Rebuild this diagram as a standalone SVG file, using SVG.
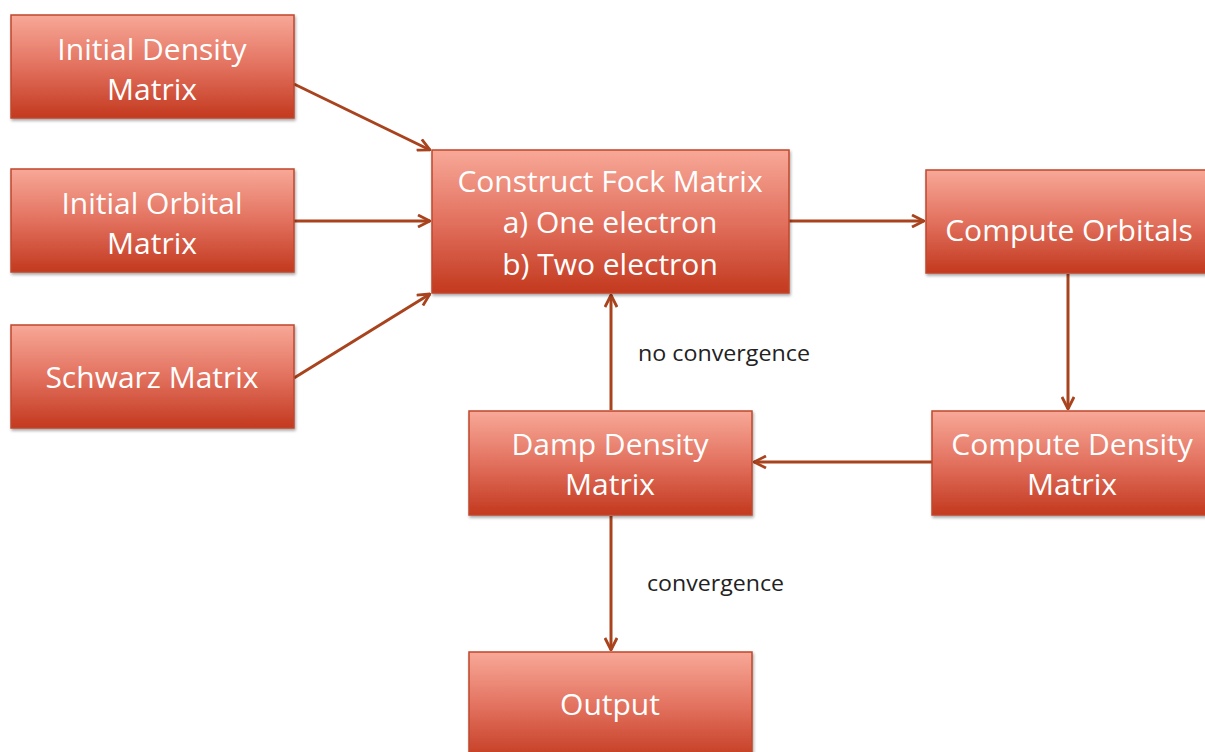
<svg xmlns="http://www.w3.org/2000/svg" width="1205" height="752" viewBox="0 0 1205 752">
<style>
.box{fill:url(#g);stroke:#c0472c;stroke-width:1.5;filter:url(#sh)}
.t{font-family:"Open Sans","Liberation Sans",sans-serif;font-size:30px;fill:#ffffff;text-anchor:middle}
.lbl{font-family:"Open Sans","Liberation Sans",sans-serif;font-size:21px;fill:#222222}
.c{stroke:#a9431e;stroke-width:3;fill:none;marker-end:url(#a)}
</style>
<defs>
<linearGradient id="g" x1="0" y1="0" x2="0" y2="1">
<stop offset="0" stop-color="#f8a898"/>
<stop offset="0.5" stop-color="#e2715e"/>
<stop offset="1" stop-color="#c3391f"/>
</linearGradient>
<filter id="sh" x="-5%" y="-5%" width="115%" height="120%">
<feDropShadow dx="1" dy="2" stdDeviation="1.5" flood-color="#000" flood-opacity="0.35"/>
</filter>
<marker id="a" viewBox="0 0 14 14" refX="13" refY="7" markerWidth="14" markerHeight="14" markerUnits="userSpaceOnUse" orient="auto">
<path d="M1,1 L13,7 L1,13" fill="none" stroke="#a9431e" stroke-width="2.8"/>
</marker>
</defs>
<rect width="1205" height="752" fill="#ffffff"/>
<g id="connectors">
<line class="c" x1="294" y1="84" x2="430" y2="150"/>
<line class="c" x1="294" y1="221" x2="430" y2="221"/>
<line class="c" x1="294" y1="378" x2="430" y2="294"/>
<line class="c" x1="789" y1="221" x2="924" y2="221"/>
<line class="c" x1="1068" y1="274" x2="1068" y2="409"/>
<line class="c" x1="932" y1="462" x2="754" y2="462"/>
<line class="c" x1="611" y1="410" x2="611" y2="295"/>
<line class="c" x1="611" y1="516" x2="611" y2="650"/>
</g>
<g id="n-initial-density"><rect class="box" x="11" y="15" width="283" height="103"/><text class="t" x="152" y="60">Initial Density</text><text class="t" x="152" y="100">Matrix</text></g>
<g id="n-initial-orbital"><rect class="box" x="11" y="169" width="283" height="103"/><text class="t" x="152" y="214">Initial Orbital</text><text class="t" x="152" y="254">Matrix</text></g>
<g id="n-schwarz"><rect class="box" x="11" y="325" width="283" height="103"/><text class="t" x="152" y="388">Schwarz Matrix</text></g>
<g id="n-fock"><rect class="box" x="432" y="150" width="357" height="143"/><text class="t" x="610" y="192">Construct Fock Matrix</text><text class="t" x="610" y="233">a) One electron</text><text class="t" x="610" y="275">b) Two electron</text></g>
<g id="n-orbitals"><rect class="box" x="926" y="170" width="290" height="103"/><text class="t" x="1069" y="241">Compute Orbitals</text></g>
<g id="n-density"><rect class="box" x="932" y="411" width="284" height="104"/><text class="t" x="1072" y="455">Compute Density</text><text class="t" x="1072" y="495">Matrix</text></g>
<g id="n-damp"><rect class="box" x="469" y="411" width="283" height="104"/><text class="t" x="610" y="455">Damp Density</text><text class="t" x="610" y="495">Matrix</text></g>
<g id="n-output"><rect class="box" x="469" y="652" width="283" height="110"/><text class="t" x="610" y="715">Output</text></g>
<g id="labels">
<text class="lbl" x="638" y="361" textLength="172" lengthAdjust="spacingAndGlyphs">no convergence</text>
<text class="lbl" x="647" y="591" textLength="137" lengthAdjust="spacingAndGlyphs">convergence</text>
</g>
</svg>
